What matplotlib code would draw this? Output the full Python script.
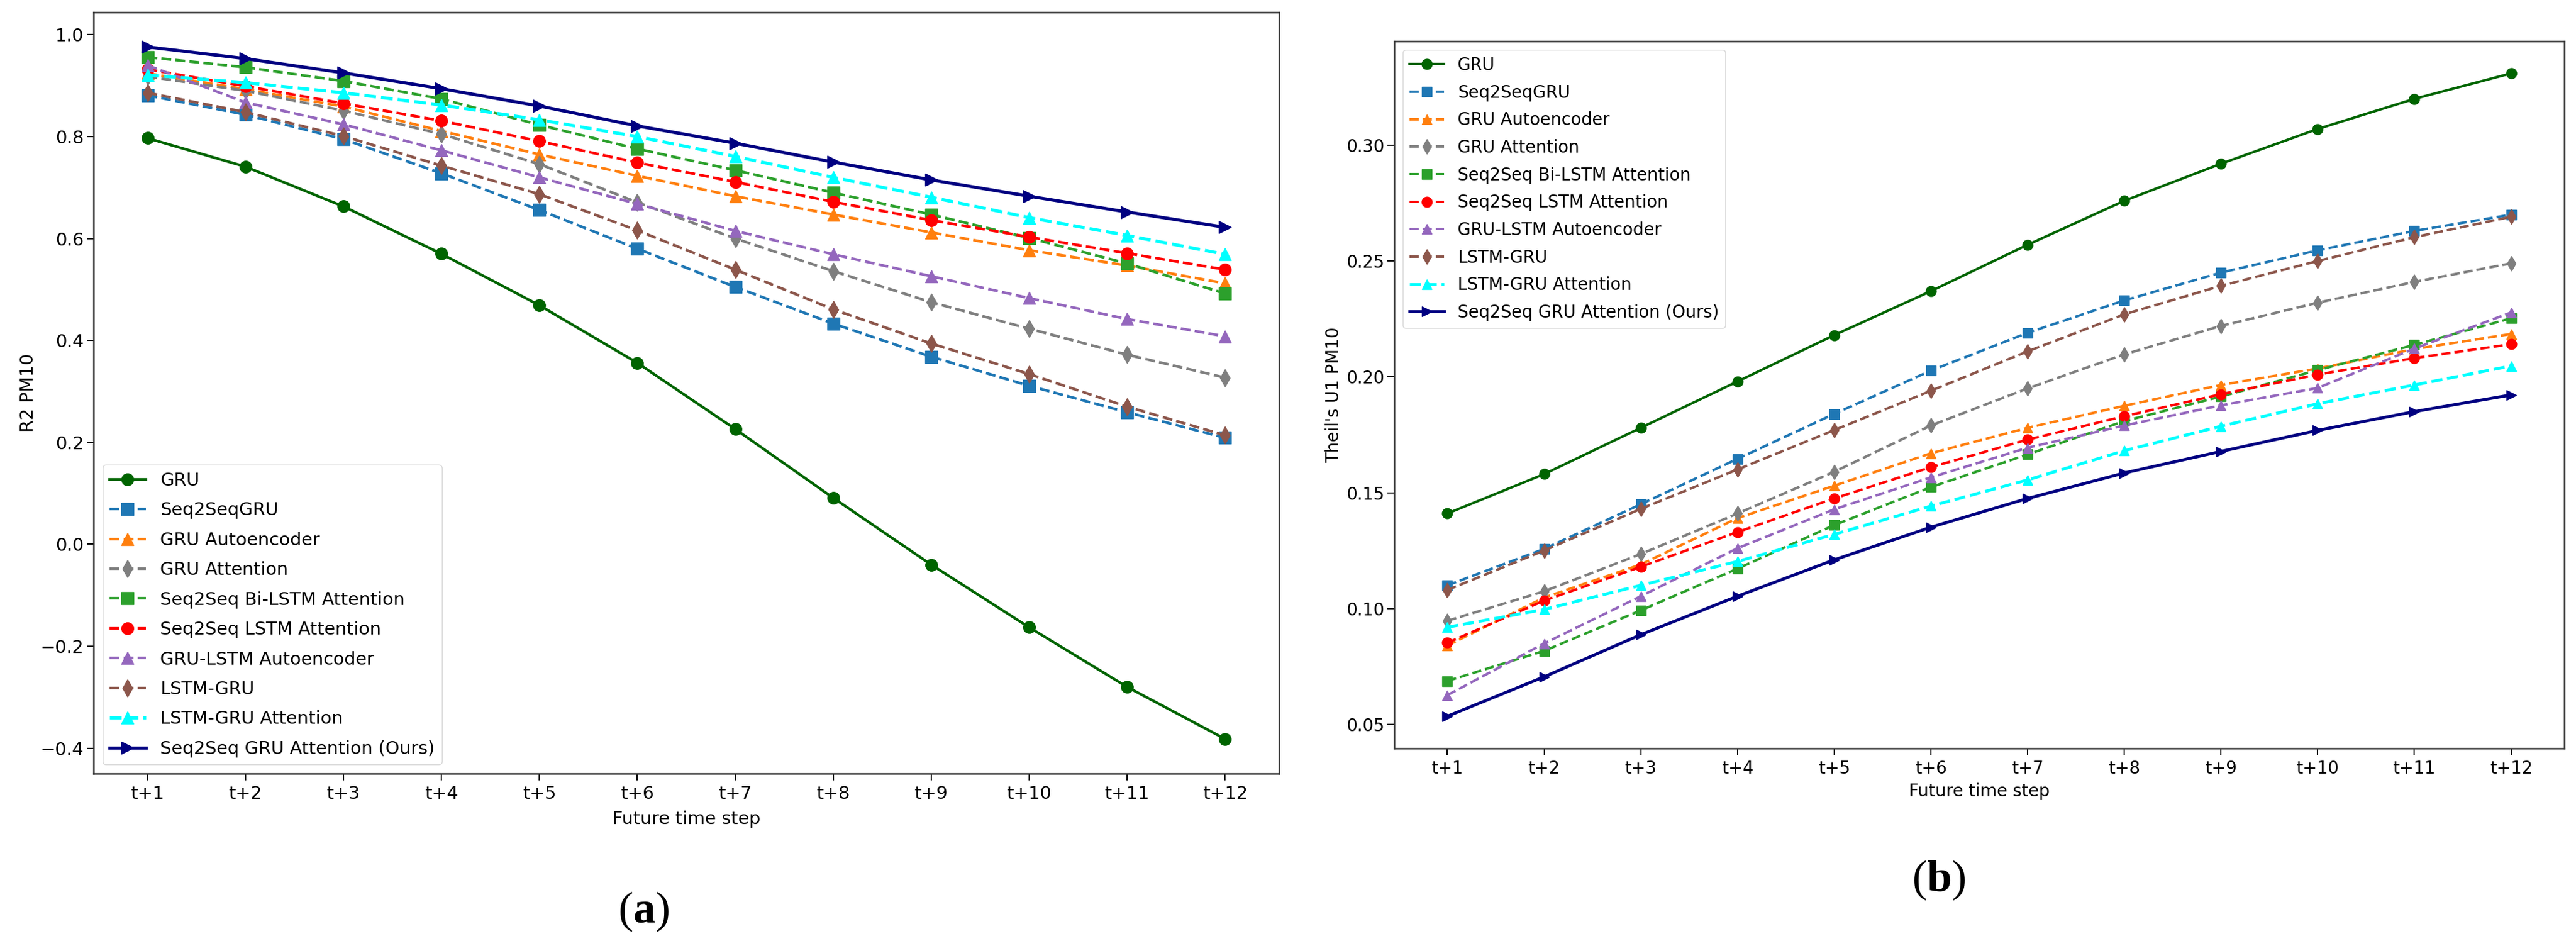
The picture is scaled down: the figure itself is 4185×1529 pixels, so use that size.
import matplotlib
import matplotlib.pyplot as plt

matplotlib.use("agg")

plt.rcParams["mathtext.fontset"] = "custom"
plt.rcParams["mathtext.rm"] = "Liberation Serif"
plt.rcParams["mathtext.bf"] = "Liberation Serif:bold"

steps = [f"t+{i}" for i in range(1, 13)]

models = [
    "GRU",
    "Seq2SeqGRU",
    "GRU Autoencoder",
    "GRU Attention",
    "Seq2Seq Bi-LSTM Attention",
    "Seq2Seq LSTM Attention",
    "GRU-LSTM Autoencoder",
    "LSTM-GRU",
    "LSTM-GRU Attention",
    "Seq2Seq GRU Attention (Ours)",
]

# (a) R2 for PM10
r2_gru = [0.797, 0.741, 0.663, 0.570, 0.469, 0.356, 0.226, 0.091, -0.040, -0.163, -0.280, -0.382]
r2_s2s_gru = [0.881, 0.843, 0.795, 0.728, 0.656, 0.580, 0.505, 0.433, 0.368, 0.311, 0.259, 0.209]
r2_gru_ae = [0.924, 0.893, 0.859, 0.811, 0.765, 0.723, 0.683, 0.647, 0.612, 0.577, 0.547, 0.512]
r2_gru_att = [0.918, 0.890, 0.851, 0.805, 0.746, 0.671, 0.600, 0.536, 0.475, 0.423, 0.372, 0.327]
r2_bilstm_att = [0.956, 0.936, 0.909, 0.874, 0.823, 0.776, 0.734, 0.690, 0.647, 0.601, 0.551, 0.492]
r2_lstm_att = [0.932, 0.899, 0.865, 0.831, 0.791, 0.749, 0.711, 0.672, 0.636, 0.603, 0.571, 0.539]
r2_gru_lstm_ae = [0.940, 0.867, 0.824, 0.773, 0.720, 0.668, 0.615, 0.569, 0.526, 0.483, 0.442, 0.408]
r2_lstm_gru = [0.886, 0.848, 0.801, 0.743, 0.687, 0.616, 0.539, 0.461, 0.394, 0.334, 0.270, 0.214]
r2_lstm_gru_att = [0.921, 0.906, 0.886, 0.862, 0.833, 0.800, 0.761, 0.720, 0.681, 0.641, 0.606, 0.569]
r2_ours = [0.976, 0.953, 0.925, 0.894, 0.860, 0.821, 0.787, 0.750, 0.715, 0.683, 0.652, 0.622]

# (b) Theil's U1 for PM10
u1_gru = [0.141, 0.158, 0.178, 0.198, 0.218, 0.237, 0.257, 0.276, 0.292, 0.307, 0.320, 0.331]
u1_s2s_gru = [0.110, 0.1257, 0.145, 0.1646, 0.184, 0.2027, 0.219, 0.233, 0.245, 0.2546, 0.263, 0.270]
u1_gru_ae = [0.084, 0.1047, 0.119, 0.139, 0.153, 0.167, 0.178, 0.1875, 0.1965, 0.2036, 0.212, 0.2185]
u1_gru_att = [0.0947, 0.1074, 0.1235, 0.141, 0.159, 0.179, 0.195, 0.2097, 0.222, 0.232, 0.241, 0.249]
u1_bilstm_att = [0.0687, 0.0817, 0.0992, 0.1172, 0.136, 0.1524, 0.1665, 0.1809, 0.1915, 0.2029, 0.2138, 0.2253]
u1_lstm_att = [0.0852, 0.1034, 0.118, 0.133, 0.1475, 0.161, 0.1729, 0.183, 0.1925, 0.201, 0.2081, 0.2141]
u1_gru_lstm_ae = [0.0626, 0.0849, 0.1053, 0.126, 0.1428, 0.1566, 0.1694, 0.179, 0.1877, 0.1952, 0.2122, 0.2278]
u1_lstm_gru = [0.108, 0.125, 0.143, 0.160, 0.177, 0.194, 0.211, 0.227, 0.2393, 0.250, 0.2603, 0.2691]
u1_lstm_gru_att = [0.0919, 0.0996, 0.110, 0.1203, 0.132, 0.1442, 0.1555, 0.1681, 0.1787, 0.1884, 0.1965, 0.2047]
u1_ours = [0.0535, 0.0705, 0.0887, 0.1053, 0.121, 0.1351, 0.1475, 0.1585, 0.1678, 0.1769, 0.185, 0.1922]

styles = [
    dict(color="darkgreen", linestyle="-", marker="o"),
    dict(color="#1f77b4", linestyle="--", marker="s"),
    dict(color="#ff7f0e", linestyle="--", marker="^"),
    dict(color="#7f7f7f", linestyle="--", marker="d"),
    dict(color="#2ca02c", linestyle="--", marker="s"),
    dict(color="red", linestyle="--", marker="o"),
    dict(color="#9467bd", linestyle="--", marker="^"),
    dict(color="#8c564b", linestyle="--", marker="d"),
    dict(color="cyan", linestyle="--", marker="^"),
    dict(color="navy", linestyle="-", marker=">"),
]

r2_series = [r2_gru, r2_s2s_gru, r2_gru_ae, r2_gru_att, r2_bilstm_att,
             r2_lstm_att, r2_gru_lstm_ae, r2_lstm_gru, r2_lstm_gru_att, r2_ours]
u1_series = [u1_gru, u1_s2s_gru, u1_gru_ae, u1_gru_att, u1_bilstm_att,
             u1_lstm_att, u1_gru_lstm_ae, u1_lstm_gru, u1_lstm_gru_att, u1_ours]


def draw(ax, series, ylabel, fs, ms, lw, legend_loc, spacing, xpad):
    for name, vals, st in zip(models, series, styles):
        w = lw + 0.6 if st["color"] in ("cyan", "navy") else lw
        ax.plot(steps, vals, label=name, linewidth=w, markersize=ms, **st)
    ax.set_xlabel("Future time step", fontsize=fs, labelpad=xpad)
    ax.set_ylabel(ylabel, fontsize=fs)
    ax.tick_params(labelsize=fs, length=8, width=1.4)
    ax.tick_params(axis="x", pad=6)
    for sp in ax.spines.values():
        sp.set_linewidth(1.8)
        sp.set_color("#333333")
    ax.legend(loc=legend_loc, fontsize=fs, labelspacing=spacing)


fig = plt.figure(figsize=(41.85, 15.29), dpi=100)
ax_a = fig.add_axes([0.03632, 0.17789, 0.46022, 0.80903])
ax_b = fig.add_axes([0.54122, 0.20471, 0.45424, 0.75147])

draw(ax_a, r2_series, "R2 PM10", 21, 14, 3.1, "lower left", 0.7, 9)
draw(ax_b, u1_series, "Theil's U1 PM10", 20, 12, 2.9, "upper left", 0.6, 6)

fig.text(1046 / 4185, 1 - 1481 / 1529, r"$(\mathbf{a})$", fontsize=52,
         ha="center", va="center")
fig.text(3150 / 4185, 1 - 1430 / 1529, r"$(\mathbf{b})$", fontsize=52,
         ha="center", va="center")

fig.savefig("out.png", dpi=100)
plt.close(fig)
